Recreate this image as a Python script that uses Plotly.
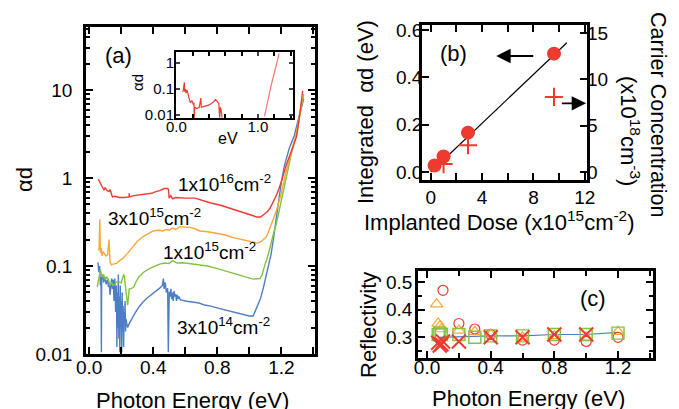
import plotly.graph_objects as go

W, H = 679, 409
FONT = "Liberation Sans, Arial, sans-serif"
PAGE_OFFSET = 8  # the page's default body margin shifts the figure by this many pixels

# ---------------- Panel (a): absorption spectra (photon energy eV, alpha*d) ----------------
red_spec = [(0.057,0.97),(0.065,0.90),(0.072,0.87),(0.08,0.80),(0.093,0.73),(0.1,0.78),(0.11,0.72),
            (0.124,0.70),(0.13,0.74),(0.145,0.61),(0.16,0.62),(0.186,0.60),(0.22,0.60),(0.249,0.61),
            (0.25,0.67),(0.252,0.61),(0.28,0.63),(0.32,0.64),(0.353,0.65),(0.39,0.67),(0.416,0.70),
            (0.44,0.72),(0.468,0.76),(0.49,0.76),(0.495,0.74),(0.499,0.59),(0.51,0.63),(0.52,0.58),
            (0.54,0.60),(0.57,0.59),(0.60,0.59),(0.66,0.59),(0.71,0.55),(0.76,0.52),(0.82,0.49),
            (0.87,0.46),(0.92,0.43),(0.97,0.40),(1.01,0.38),(1.045,0.36),(1.07,0.36),(1.086,0.38),
            (1.11,0.41),(1.128,0.45),(1.15,0.54),(1.17,0.64),(1.185,0.76),(1.20,0.91),(1.23,1.4),
            (1.26,2.0),(1.295,2.95),(1.31,4.5),(1.326,7.1),(1.333,9.8)]

orange_spec = [(0.057,0.15),(0.062,0.16),(0.066,0.34),(0.07,0.14),(0.075,0.16),(0.08,0.13),(0.086,0.146),
               (0.095,0.14),(0.105,0.13),(0.115,0.135),(0.124,0.20),(0.13,0.11),(0.139,0.103),(0.15,0.105),
               (0.17,0.107),(0.19,0.115),(0.21,0.122),(0.24,0.14),(0.274,0.166),(0.30,0.19),(0.336,0.216),
               (0.37,0.235),(0.40,0.25),(0.43,0.255),(0.46,0.25),(0.48,0.26),(0.50,0.255),(0.52,0.27),
               (0.54,0.26),(0.566,0.28),(0.60,0.278),(0.628,0.275),(0.66,0.265),(0.69,0.25),(0.74,0.245),
               (0.795,0.235),(0.85,0.225),(0.90,0.21),(0.96,0.197),(1.024,0.184),(1.05,0.182),(1.076,0.19),
               (1.09,0.20),(1.107,0.216),(1.125,0.26),(1.14,0.305),(1.155,0.36),(1.17,0.43),(1.185,0.54),
               (1.20,0.67),(1.23,1.2),(1.26,1.9),(1.29,3.0),(1.31,4.5),(1.33,8.0)]

green_spec = [(0.05,0.058),(0.06,0.07),(0.07,0.09),(0.08,0.075),(0.09,0.08),(0.1,0.07),(0.11,0.075),
              (0.12,0.07),(0.13,0.06),(0.14,0.065),(0.15,0.06),(0.16,0.062),(0.17,0.066),(0.186,0.066),
              (0.2,0.064),(0.215,0.08),(0.22,0.075),(0.23,0.05),(0.24,0.036),(0.25,0.055),(0.26,0.055),
              (0.28,0.058),(0.29,0.065),(0.31,0.075),(0.34,0.085),(0.378,0.094),(0.41,0.10),(0.44,0.105),
              (0.47,0.108),(0.50,0.107),(0.52,0.115),(0.55,0.108),(0.586,0.109),(0.63,0.106),(0.69,0.103),
              (0.74,0.10),(0.795,0.094),(0.85,0.088),(0.90,0.082),(0.96,0.077),(1.024,0.071),(1.066,0.072),
              (1.08,0.08),(1.097,0.103),(1.11,0.12),(1.128,0.159),(1.14,0.20),(1.155,0.25),(1.17,0.31),
              (1.185,0.42),(1.20,0.56),(1.23,1.0),(1.26,1.8),(1.29,3.0),(1.31,4.6),(1.34,9.0)]

blue_spec = [(0.055,0.11),(0.06,0.085),(0.065,0.10),(0.07,0.06),(0.074,0.075),(0.076,0.0105),(0.078,0.07),
             (0.085,0.08),(0.09,0.065),(0.095,0.07),(0.1,0.075),(0.105,0.062),(0.11,0.066),(0.115,0.07),
             (0.12,0.058),(0.125,0.065),(0.13,0.047),(0.135,0.06),(0.14,0.072),(0.145,0.055),(0.15,0.07),
             (0.155,0.04),(0.16,0.072),(0.165,0.03),(0.17,0.06),(0.173,0.012),(0.176,0.05),(0.179,0.02),
             (0.182,0.08),(0.185,0.015),(0.188,0.045),(0.191,0.0105),(0.194,0.06),(0.197,0.02),(0.2,0.04),
             (0.203,0.0105),(0.206,0.05),(0.209,0.018),(0.212,0.035),(0.215,0.012),(0.218,0.03),(0.221,0.025),
             (0.224,0.04),(0.227,0.018),(0.23,0.025),(0.235,0.022),(0.24,0.02),(0.249,0.022),(0.26,0.024),
             (0.27,0.0266),(0.29,0.03),(0.31,0.034),(0.33,0.038),(0.36,0.043),(0.395,0.048),(0.42,0.053),
             (0.44,0.056),(0.457,0.06),(0.463,0.072),(0.468,0.055),(0.475,0.065),(0.482,0.05),(0.49,0.056),
             (0.494,0.0105),(0.496,0.05),(0.5,0.051),(0.505,0.045),(0.51,0.055),(0.515,0.042),(0.52,0.05),
             (0.525,0.04),(0.53,0.052),(0.535,0.045),(0.54,0.048),(0.545,0.04),(0.55,0.047),(0.555,0.042),
             (0.56,0.045),(0.57,0.041),(0.58,0.041),(0.60,0.040),(0.64,0.039),(0.686,0.038),(0.72,0.036),
             (0.76,0.035),(0.81,0.033),(0.87,0.031),(0.92,0.029),(0.97,0.028),(1.0,0.027),(1.024,0.027),
             (1.04,0.0316),(1.055,0.036),(1.07,0.043),(1.086,0.055),(1.1,0.072),(1.12,0.10),(1.135,0.134),
             (1.15,0.2),(1.165,0.3),(1.18,0.5),(1.20,0.9),(1.22,1.4),(1.25,2.2),(1.28,3.0),(1.30,4.2),
             (1.32,6.0),(1.34,8.0)]

spec_labels = ["1x10<sup>16</sup>cm<sup>-2</sup>", "3x10<sup>15</sup>cm<sup>-2</sup>",
               "1x10<sup>15</sup>cm<sup>-2</sup>", "3x10<sup>14</sup>cm<sup>-2</sup>"]

# inset (difference spectrum)
inset_low = [(0.077,0.076),(0.085,0.09),(0.097,0.18),(0.10,0.08),(0.11,0.10),(0.12,0.07),(0.13,0.09),
             (0.14,0.06),(0.155,0.045),(0.17,0.03),(0.19,0.035),(0.21,0.025),(0.215,0.03),(0.22,0.008),
             (0.225,0.02),(0.25,0.018),(0.28,0.02),(0.30,0.045),(0.305,0.02),(0.35,0.022),(0.395,0.024),
             (0.43,0.028),(0.455,0.032),(0.48,0.04),(0.50,0.032),(0.52,0.028),(0.53,0.008),(0.54,0.02),
             (0.55,0.015),(0.56,0.008)]
inset_edge = [(1.08,0.009),(1.12,0.04),(1.16,0.13),(1.20,0.4),(1.23,1.0),(1.26,2.3)]

# ---------------- Panel (b) ----------------
dose = [0.3, 1.0, 2.9, 9.6]
integrated_ad = [0.027, 0.065, 0.166, 0.50]
dose_carrier = [1.0, 2.9, 9.6]
carrier_conc = [0.86, 2.9, 8.1]
fit_dose = [0.0, 10.6]
fit_ad = [0.0, 0.546]

# ---------------- Panel (c): reflectivity ----------------
refl_circ_E = [0.1, 0.2, 0.3, 0.4, 0.6, 0.8, 1.0, 1.2]
refl_circ = [0.47, 0.35, 0.33, 0.31, 0.29, 0.29, 0.285, 0.30]
refl_tri_E = [0.06, 0.07, 0.08, 0.09, 0.2, 0.3, 0.4, 0.6, 0.8, 1.0, 1.2]
refl_tri = [0.42, 0.35, 0.34, 0.33, 0.325, 0.32, 0.31, 0.30, 0.305, 0.30, 0.32]
refl_sq_E = [0.07, 0.08, 0.09, 0.2, 0.3, 0.4, 0.6, 0.8, 1.0, 1.2]
refl_sq = [0.31, 0.315, 0.31, 0.31, 0.30, 0.305, 0.305, 0.31, 0.31, 0.315]
refl_x_E = [0.07, 0.08, 0.09, 0.1, 0.2, 0.4, 0.6, 0.8, 1.0]
refl_x = [0.28, 0.27, 0.275, 0.285, 0.285, 0.30, 0.30, 0.31, 0.31]
refl_line_E = [0.07, 0.2, 0.4, 0.6, 0.8, 1.0, 1.2]
refl_line = [0.30, 0.302, 0.305, 0.305, 0.31, 0.31, 0.318]

RED, ORANGE, GREEN, BLUE = "#ee3a2f", "#f7a838", "#82c341", "#4f7dc4"


def fx(px):
    return (px - PAGE_OFFSET) / W


def fy(py):
    return 1 - (py - PAGE_OFFSET) / H


fig = go.Figure()

for pts, col in [(blue_spec, BLUE), (green_spec, GREEN), (orange_spec, ORANGE), (red_spec, RED)]:
    fig.add_trace(go.Scatter(x=[p[0] for p in pts], y=[p[1] for p in pts], mode="lines",
                             line=dict(color=col, width=1.4), xaxis="x", yaxis="y", showlegend=False))

fig.add_trace(go.Scatter(x=[p[0] for p in inset_low], y=[p[1] for p in inset_low], mode="lines",
                         line=dict(color=RED, width=1.2), xaxis="x2", yaxis="y2", showlegend=False))
fig.add_trace(go.Scatter(x=[p[0] for p in inset_edge], y=[p[1] for p in inset_edge], mode="lines",
                         line=dict(color="#f47a74", width=1.2), xaxis="x2", yaxis="y2", showlegend=False))

# panel b
fig.add_trace(go.Scatter(x=fit_dose, y=fit_ad, mode="lines", line=dict(color="black", width=1.2),
                         xaxis="x3", yaxis="y3", showlegend=False))
fig.add_trace(go.Scatter(x=dose, y=integrated_ad, mode="markers",
                         marker=dict(color=RED, size=14, line=dict(width=0)),
                         xaxis="x3", yaxis="y3", showlegend=False))
fig.add_trace(go.Scatter(x=dose_carrier, y=carrier_conc, mode="markers",
                         marker=dict(symbol="cross-thin", size=13, color=RED, line=dict(color=RED, width=2)),
                         xaxis="x3", yaxis="y4", showlegend=False))

# panel c
fig.add_trace(go.Scatter(x=refl_line_E, y=refl_line, mode="lines", line=dict(color=BLUE, width=1.2),
                         xaxis="x4", yaxis="y5", showlegend=False))
fig.add_trace(go.Scatter(x=refl_circ_E, y=refl_circ, mode="markers",
                         marker=dict(symbol="circle-open", size=10, color=RED, line=dict(color=RED, width=1.2)),
                         xaxis="x4", yaxis="y5", showlegend=False))
fig.add_trace(go.Scatter(x=refl_tri_E, y=refl_tri, mode="markers",
                         marker=dict(symbol="triangle-up-open", size=11, color=ORANGE,
                                     line=dict(color=ORANGE, width=1.2)),
                         xaxis="x4", yaxis="y5", showlegend=False))
fig.add_trace(go.Scatter(x=refl_sq_E, y=refl_sq, mode="markers",
                         marker=dict(symbol="square-open", size=12, color=GREEN, line=dict(color=GREEN, width=1.4)),
                         xaxis="x4", yaxis="y5", showlegend=False))
fig.add_trace(go.Scatter(x=refl_x_E, y=refl_x, mode="markers",
                         marker=dict(symbol="x-thin", size=14, color=RED, line=dict(color=RED, width=2)),
                         xaxis="x4", yaxis="y5", showlegend=False))

TICK = 19
tickfont = dict(family=FONT, size=TICK, color="black")
common = dict(showline=True, linecolor="black", linewidth=2.5, ticks="inside", tickwidth=2,
              ticklen=7, tickcolor="black", showgrid=False, zeroline=False, mirror="allticks",
              tickfont=tickfont, automargin=False)

fig.update_layout(
    template="none",
    width=W, height=H, margin=dict(l=0, r=0, t=0, b=0, pad=0, autoexpand=False),
    paper_bgcolor="white", plot_bgcolor="white",
    font=dict(family=FONT, color="black"),
    xaxis=dict(**common, domain=[fx(86), fx(315)], anchor="y", range=[-0.02, 1.41],
               dtick=0.4, tick0=0, tickformat=".1f", ticklabelstandoff=-6,
               minor=dict(dtick=0.2, ticks="inside", ticklen=7, tickwidth=2, tickcolor="black")),
    yaxis=dict(**common, domain=[fy(354), fy(27)], anchor="x", type="log", range=[-2, 1.716],
               dtick=1, ticklabelstandoff=7,
               minor=dict(dtick="D1", ticks="inside", ticklen=4, tickwidth=1.5, tickcolor="black")),
    xaxis2=dict(showline=True, linecolor="black", linewidth=2, ticks="inside", tickwidth=1.5,
                ticklen=4, mirror="allticks", showgrid=False, zeroline=False, automargin=False,
                tickfont=dict(family=FONT, size=15, color="black"),
                domain=[fx(176), fx(293)], anchor="y2", range=[-0.005, 1.43],
                tickvals=[0, 1], ticktext=["0.0", "1.0"], ticklabelstandoff=-6,
                minor=dict(dtick=0.2, tick0=0, ticks="inside", ticklen=4, tickwidth=1.5, tickcolor="black")),
    yaxis2=dict(showline=True, linecolor="black", linewidth=2, ticks="inside", tickwidth=1.5,
                ticklen=4, mirror="allticks", showgrid=False, zeroline=False, automargin=False,
                tickfont=dict(family=FONT, size=15, color="black"),
                domain=[fy(118), fy(52)], anchor="x2", type="log", range=[-2.11, 0.415],
                dtick=1, ticklabelstandoff=-3),
    xaxis3=dict(**common, domain=[fx(422), fx(587)], anchor="y3", range=[-0.68, 12.17],
                dtick=4, tick0=0, ticklabelstandoff=-2,
                minor=dict(dtick=2, ticks="inside", ticklen=5, tickwidth=1.5, tickcolor="black")),
    yaxis3=dict(showline=True, linecolor="black", linewidth=2.5, ticks="inside", tickwidth=2,
                ticklen=7, tickcolor="black", showgrid=False, zeroline=False, mirror=True,
                automargin=False,
                tickfont=tickfont, domain=[fy(180), fy(25)], anchor="x3", range=[-0.034, 0.621],
                dtick=0.2, tick0=0, tickformat=".1f", ticklabelstandoff=-7),
    yaxis4=dict(showline=False, ticks="inside", tickwidth=2, ticklen=7, tickcolor="black",
                showgrid=False, zeroline=False, tickfont=tickfont, overlaying="y3", side="right",
                automargin=False,
                anchor="x3", range=[-0.86, 15.86], dtick=5, tick0=0, ticklabelstandoff=-1),
    xaxis4=dict(**common, domain=[fx(418), fx(653)], anchor="y5", range=[-0.057, 1.42],
                dtick=0.4, tick0=0, tickformat=".1f", ticklabelstandoff=-10,
                minor=dict(dtick=0.2, ticks="inside", ticklen=5, tickwidth=1.5, tickcolor="black")),
    yaxis5=dict(**common, domain=[fy(358), fy(271)], anchor="x4", range=[0.225, 0.54],
                dtick=0.1, tick0=0.3, tickformat=".1f", ticklabelstandoff=-1,
                minor=dict(dtick=0.05, ticks="inside", ticklen=4, tickwidth=1.5, tickcolor="black")),
)

ann = []


def txt(text, px, py, size, angle=0, xanchor="center", yanchor="middle"):
    ann.append(dict(text=text, x=fx(px), y=fy(py), xref="paper", yref="paper", showarrow=False,
                    font=dict(family=FONT, size=size, color="black"), textangle=angle,
                    xanchor=xanchor, yanchor=yanchor))


TITLE = 22
txt("αd", 25, 180, TITLE, -90)
txt("Photon Energy (eV)", 192, 400, TITLE)
txt("(a)", 118, 55, 22)
txt("αd", 137, 83, 15, -90)
txt("eV", 228, 138, 16)
txt(spec_labels[0], 224, 183, 19)
txt(spec_labels[1], 154, 217, 19)
txt(spec_labels[2], 209, 251, 19)
txt(spec_labels[3], 223, 326, 19)
txt("Integrated  αd (eV)", 365, 112, TITLE, -90)
txt("Carrier Concentration", 658, 115, 21.5, 90)
txt("(x10<sup>18</sup>cm<sup>-3</sup>)", 630, 131, TITLE, 90)
txt("Implanted Dose (x10<sup>15</sup>cm<sup>-2</sup>)", 499, 221, TITLE)
txt("(b)", 453, 53, 22)
txt("Reflectivity", 368, 325, TITLE, -90)
txt("Photon Energy (eV)", 528, 398, TITLE)
txt("(c)", 593, 298, 22)

# arrows in panel (b)
ann.append(dict(x=5.1, y=0.49, ax=8.1, ay=0.49, xref="x3", yref="y3", axref="x3", ayref="y3",
                text="", showarrow=True, arrowhead=2, arrowsize=1.6, arrowwidth=1.8, arrowcolor="black"))
ann.append(dict(x=12.1, y=0.29, ax=10.1, ay=0.29, xref="x3", yref="y3", axref="x3", ayref="y3",
                text="", showarrow=True, arrowhead=2, arrowsize=1.6, arrowwidth=1.8, arrowcolor="black"))

fig.update_layout(annotations=ann)
fig.write_html("out.html")
